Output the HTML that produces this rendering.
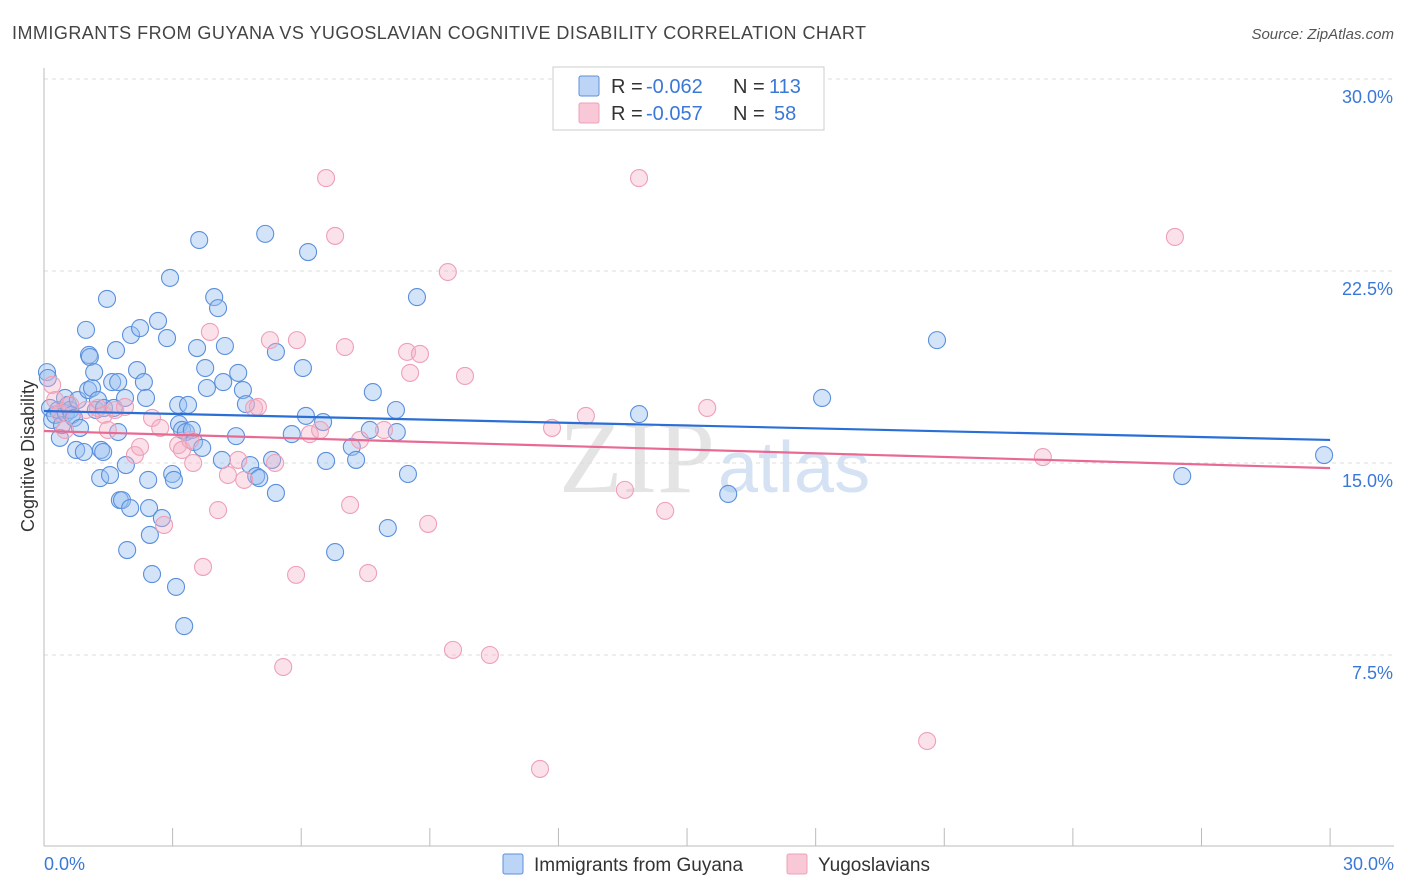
<!DOCTYPE html>
<html><head><meta charset="utf-8"><style>
body{margin:0;background:#fff;font-family:"Liberation Sans",sans-serif}
svg{display:block}
</style></head><body>
<svg id="chart" width="1406" height="892" viewBox="0 0 1406 892">
<text x="12" y="39" font-size="18" fill="#444" textLength="854" lengthAdjust="spacing">IMMIGRANTS FROM GUYANA VS YUGOSLAVIAN COGNITIVE DISABILITY CORRELATION CHART</text>
<text x="1394" y="39" font-size="15" fill="#555" font-style="italic" text-anchor="end">Source: ZipAtlas.com</text>
<text x="715" y="492" font-size="104" fill="#e4e4e4" text-anchor="end" font-family="Liberation Serif,serif">ZIP</text>
<text x="718" y="492" font-size="72" fill="#d4e2f4">atlas</text>
<g id="grid"></g><g id="axes"></g><g id="pts"></g><g id="trends"></g>
<text x="34" y="456" font-size="18" fill="#333" text-anchor="middle" transform="rotate(-90 34 456)">Cognitive Disability</text>
<text x="44" y="870" font-size="18" fill="#3a78d8">0.0%</text>
<text x="1394" y="870" font-size="18" fill="#3a78d8" text-anchor="end">30.0%</text>
<g>
<rect x="553" y="67" width="271" height="63" fill="#fff" stroke="#ccc"/>
<rect x="579" y="76" width="20" height="20" fill="#bcd4f5" stroke="#5b8fdc" rx="2"/>
<rect x="579" y="103" width="20" height="20" fill="#f9c8d6" stroke="#eea0b8" rx="2"/>
<text x="611" y="93" font-size="20" fill="#333">R =</text><text x="646" y="93" font-size="20" fill="#3a78d8">-0.062</text>
<text x="733" y="93" font-size="20" fill="#333">N =</text><text x="769" y="93" font-size="20" fill="#3a78d8">113</text>
<text x="611" y="120" font-size="20" fill="#333">R =</text><text x="646" y="120" font-size="20" fill="#3a78d8">-0.057</text>
<text x="733" y="120" font-size="20" fill="#333">N =</text><text x="774" y="120" font-size="20" fill="#3a78d8">58</text>
</g>
<g><rect x="503" y="854" width="20" height="20" fill="#bcd4f5" stroke="#5b8fdc" rx="2"/><text x="534" y="871" font-size="19" fill="#333">Immigrants from Guyana</text></g>
<g><rect x="787" y="854" width="20" height="20" fill="#f9c8d6" stroke="#eea0b8" rx="2"/><text x="818" y="871" font-size="19" fill="#333">Yugoslavians</text></g>
</svg>
<script>
const yTicks=[7.5,15,22.5,30];
const xTicks=[0,3,6,9,12,15,18,21,24,27,30];
const blueX=[.07,.09,.14,.19,.26,.33,.37,.42,.49,.51,.56,.61,.65,.70,.75,.79,.84,.93,.98,1.03,1.05,1.07,1.12,1.17,1.21,1.26,1.31,1.33,1.38,1.40,1.47,1.54,1.59,1.63,1.68,1.73,1.73,1.77,1.82,1.89,1.91,1.94,2.01,2.03,2.17,2.24,2.33,2.38,2.43,2.45,2.47,2.52,2.66,2.75,2.87,2.94,2.99,3.03,3.08,3.13,3.15,3.22,3.27,3.31,3.36,3.45,3.50,3.57,3.62,3.69,3.76,3.80,3.97,4.06,4.15,4.18,4.22,4.48,4.53,4.64,4.71,4.81,4.95,5.02,5.16,5.32,5.41,5.41,5.78,6.04,6.11,6.16,6.51,6.58,6.79,7.18,7.28,7.60,7.67,8.02,8.21,8.23,8.49,8.70,13.88,15.96,18.15,20.83,26.55,29.86];
const blueY=[18.55,18.32,17.15,16.68,16.88,17.07,15.98,16.48,17.54,16.95,17.27,17.07,16.88,16.76,15.51,17.46,16.37,15.43,20.2,17.85,19.22,19.14,17.93,18.55,17.07,17.46,14.41,15.51,15.43,17.15,21.41,14.53,18.16,17.15,19.41,16.21,18.16,13.55,13.55,17.54,14.92,11.6,13.24,20.0,18.63,20.27,18.16,17.54,14.34,13.24,12.19,10.66,20.55,12.85,19.88,22.23,14.57,14.34,10.16,17.27,16.52,16.29,8.63,16.21,17.27,16.29,15.82,19.49,23.71,15.59,18.71,17.93,21.48,21.05,15.12,18.16,19.57,16.05,18.52,17.85,17.30,14.92,14.49,14.41,23.95,15.12,19.34,13.83,16.13,18.71,16.84,23.24,16.6,15.08,11.52,15.63,15.12,16.29,17.77,12.46,17.07,16.21,14.57,21.48,16.91,13.79,17.54,19.8,14.49,15.31];
const pinkX=[.19,.26,.37,.49,.61,.98,1.26,1.40,1.49,1.66,1.89,2.12,2.24,2.52,2.71,2.80,3.13,3.22,3.41,3.48,3.71,3.87,4.06,4.29,4.53,4.67,4.90,4.99,5.27,5.39,5.58,5.88,5.90,6.20,6.44,6.58,6.79,7.02,7.14,7.37,7.56,7.93,8.47,8.54,8.77,8.96,9.42,9.54,9.82,10.40,11.57,11.85,12.64,13.55,13.88,14.49,15.47,20.60,23.30,26.38];
const pinkY=[18.05,17.46,16.95,16.29,17.27,17.07,17.15,16.88,16.29,17.07,17.19,15.31,15.63,16.76,16.37,12.58,15.70,15.51,15.90,15.0,10.94,20.12,13.16,14.53,15.12,14.34,17.15,17.19,19.80,15.0,7.03,10.63,19.80,16.13,16.29,26.13,23.87,19.53,13.36,15.90,10.70,16.29,19.34,18.52,19.26,12.62,22.46,7.70,18.40,7.50,3.05,16.37,16.84,13.95,26.13,13.13,17.15,4.14,15.23,23.83];
const blueTrend=[17.03,15.90];
const pinkTrend=[16.25,14.80];
const NS="http://www.w3.org/2000/svg";
const sx=v=>44+v*42.87, sy=v=>847-v*25.6;
function mk(tag,attrs,parent){const e=document.createElementNS(NS,tag);for(const k in attrs)e.setAttribute(k,attrs[k]);parent.appendChild(e);return e;}
const grid=document.getElementById('grid'),axes=document.getElementById('axes'),pts=document.getElementById('pts'),tr=document.getElementById('trends');
yTicks.forEach(t=>{
 const l=mk('line',{x1:44,x2:1394,y1:sy(t),y2:sy(t),stroke:'#ddd','stroke-dasharray':'4,4'},grid);
 
 
 const tx=mk('text',{x:1393,y:sy(t)+24,'font-size':18,fill:'#3a78d8','text-anchor':'end'},grid);
 tx.textContent=t.toFixed(1)+'%';
 
 
});
const ya=mk('line',{x1:44,x2:44,y1:68,y2:846,stroke:'#bbb'},axes);


const xa=mk('line',{x1:44,x2:1394,y1:846,y2:846,stroke:'#bbb'},axes);


xTicks.forEach(t=>{
 const l=mk('line',{x1:sx(t),x2:sx(t),y1:828,y2:846,stroke:'#bbb'},axes);
 
 
});
blueX.forEach((x,i)=>{
 const c=mk('circle',{cx:sx(x),cy:sy(blueY[i]),r:8.5,fill:'rgba(150,190,240,0.42)',stroke:'#5b8fdc','stroke-width':1.1},pts);
 
 
});
pinkX.forEach((x,i)=>{
 const c=mk('circle',{cx:sx(x),cy:sy(pinkY[i]),r:8.5,fill:'rgba(245,175,198,0.38)',stroke:'#eea0b8','stroke-width':1.1},pts);
 
 
});
const bt=mk('line',{x1:sx(0),x2:sx(30),y1:sy(blueTrend[0]),y2:sy(blueTrend[1]),stroke:'#2a6fd6','stroke-width':2.2},tr);


const pt=mk('line',{x1:sx(0),x2:sx(30),y1:sy(pinkTrend[0]),y2:sy(pinkTrend[1]),stroke:'#e86a93','stroke-width':2.2},tr);


</script>
</body></html>
